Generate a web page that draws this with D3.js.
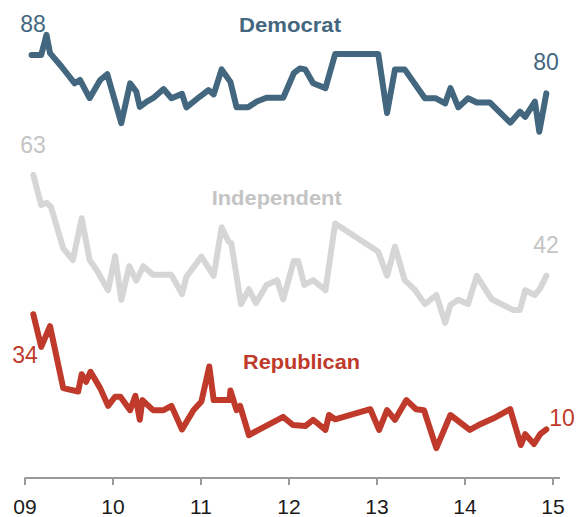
<!DOCTYPE html>
<html>
<head>
<meta charset="utf-8">
<script src="https://cdn.jsdelivr.net/npm/d3@7"></script>
<style>
html,body{margin:0;padding:0;background:#fff;}
svg{display:block;}
</style>
</head>
<body>
<svg id="chart" width="576" height="517"></svg>
<script>
// ---- data (decimal year, percent) ----
const demYears = [2009.08,2009.19,2009.25,2009.29,2009.42,2009.57,2009.63,2009.74,2009.86,2009.94,2010.10,2010.20,2010.27,2010.31,2010.39,2010.46,2010.58,2010.67,2010.79,2010.84,2010.99,2011.09,2011.15,2011.24,2011.34,2011.41,2011.54,2011.64,2011.75,2011.94,2012.06,2012.13,2012.19,2012.28,2012.42,2012.53,2013.02,2013.12,2013.21,2013.32,2013.55,2013.67,2013.78,2013.84,2013.93,2014.04,2014.14,2014.29,2014.52,2014.63,2014.69,2014.80,2014.85,2014.93];
const demValues = [88,88,92.2,88.4,85.6,82.1,82.8,79,82.8,84,73.8,82.1,80.4,77.2,78.3,79,80.9,79,79.9,77.1,79.3,80.7,79.8,85,82.4,77.1,77.1,78.3,79.1,79.1,84.2,85.2,85,82.1,81.1,88.2,88.2,75.9,85,85,79,79,77.9,81.1,77.1,79,78.1,78.1,73.9,76.2,75.1,78.3,72,80];

const indYears = [2009.10,2009.19,2009.25,2009.30,2009.44,2009.55,2009.65,2009.74,2009.82,2009.95,2010.03,2010.10,2010.19,2010.27,2010.35,2010.46,2010.67,2010.79,2010.84,2011.01,2011.15,2011.24,2011.32,2011.35,2011.46,2011.55,2011.63,2011.75,2011.87,2011.94,2012.06,2012.11,2012.18,2012.28,2012.42,2012.53,2013.02,2013.12,2013.21,2013.32,2013.44,2013.55,2013.68,2013.78,2013.84,2013.93,2014.04,2014.14,2014.31,2014.55,2014.63,2014.69,2014.80,2014.86,2014.93];
const indValues = [63,56.75,57.2,56.4,47.7,45.3,54,45.3,43.2,39,46.1,37,44,41,44,42.2,42.2,38.2,41.8,46,42,52.1,49.1,48.8,36.1,39.2,36.3,40.1,41.1,37.1,45.1,45.1,40.1,41.1,39,52.9,47,42,48.1,41.1,39,36.1,38,32.2,35.9,37,36.1,42,37.1,34.9,34.9,39,38,39.4,42];

const repYears = [2009.10,2009.19,2009.29,2009.44,2009.61,2009.65,2009.70,2009.75,2009.86,2009.95,2010.03,2010.09,2010.20,2010.26,2010.31,2010.34,2010.46,2010.58,2010.67,2010.79,2010.92,2011.01,2011.10,2011.15,2011.33,2011.34,2011.41,2011.45,2011.55,2011.66,2011.94,2012.05,2012.19,2012.28,2012.42,2012.46,2012.53,2012.93,2013.03,2013.12,2013.21,2013.34,2013.45,2013.54,2013.68,2013.84,2014.06,2014.16,2014.33,2014.52,2014.64,2014.69,2014.79,2014.86,2014.93];
const repValues = [34,27.2,31.5,18.6,17.9,21.5,19.9,22,18.6,14.9,16.8,16.8,14,17,12,16.1,14,14,14.9,10,14,15.8,23.1,16.1,16.1,18.1,14,14.9,8.8,9.9,12.6,10.9,10.7,12,9.9,13,12.1,14.2,9.9,14,12,16.1,14.2,14,6.1,13,9.9,10.9,12.3,14.2,6.75,9,6.96,9,10];

const tickYears = [2009,2010,2011,2012,2013,2014,2015];
const tickLabels = ["09","10","11","12","13","14","15"];

const seriesNames = ["Democrat","Independent","Republican"];
const seriesColors = ["#43677f","#d6d6d6","#bf3a2a"];
const labelColors = ["#43677f","#c4c4c4","#bf3a2a"];

// ---- layout ----
const svg = d3.select("#chart");
const x = d3.scaleLinear().domain([2009, 2015]).range([24.5, 552.5]);
const y = d3.scaleLinear().domain([0, 100]).range([477.4, -2.6]);

const series = [
  {name: seriesNames[0], years: demYears, values: demValues, color: seriesColors[0], lc: labelColors[0],
   label: {x: 290, y: 32, w: 102}, start: {x: 33, y: 31.5}, end: {x: 546, y: 70}},
  {name: seriesNames[1], years: indYears, values: indValues, color: seriesColors[1], lc: labelColors[1],
   label: {x: 276.7, y: 205, w: 130}, start: {x: 33, y: 152.5}, end: {x: 546, y: 252.5}},
  {name: seriesNames[2], years: repYears, values: repValues, color: seriesColors[2], lc: labelColors[2],
   label: {x: 301.5, y: 369, w: 117}, start: {x: 25, y: 362.5}, end: {x: 562, y: 426}}
];

// axis
const axisG = svg.append("g").attr("transform", "translate(0,478)");
const axis = d3.axisBottom(x).tickValues(tickYears).tickFormat((d, i) => tickLabels[i]).tickSize(7).tickPadding(14);
axisG.call(axis);
axisG.select(".domain").attr("d", "M" + x(2009) + ",0H560").attr("stroke", "#9a9a9a").attr("stroke-width", 2);
axisG.selectAll(".tick line").attr("stroke", "#9a9a9a").attr("stroke-width", 2);
axisG.selectAll(".tick text").attr("font-family", "'Liberation Sans', Arial, sans-serif").attr("font-size", 21).attr("fill", "#1a1a1a");

const line = d3.line().x(d => x(d[0])).y(d => y(d[1])).curve(d3.curveLinear);

series.forEach(s => {
  const pts = s.years.map((yr, i) => [yr, s.values[i]]);
  svg.append("path").datum(pts)
    .attr("d", line)
    .attr("fill", "none")
    .attr("stroke", s.color)
    .attr("stroke-width", 6)
    .attr("stroke-linejoin", "round")
    .attr("stroke-linecap", "round");

  svg.append("text")
    .attr("x", s.label.x).attr("y", s.label.y)
    .attr("text-anchor", "middle")
    .attr("font-family", "'Liberation Sans', Arial, sans-serif")
    .attr("font-weight", "bold").attr("font-size", 20)
    .attr("textLength", s.label.w).attr("lengthAdjust", "spacingAndGlyphs")
    .attr("fill", s.lc).text(s.name);

  svg.append("text")
    .attr("x", s.start.x).attr("y", s.start.y)
    .attr("text-anchor", "middle")
    .attr("font-family", "'Liberation Sans', Arial, sans-serif")
    .attr("font-size", 23)
    .attr("fill", s.lc).text(Math.round(s.values[0]));

  svg.append("text")
    .attr("x", s.end.x).attr("y", s.end.y)
    .attr("text-anchor", "middle")
    .attr("font-family", "'Liberation Sans', Arial, sans-serif")
    .attr("font-size", 23)
    .attr("fill", s.lc).text(Math.round(s.values[s.values.length - 1]));
});
</script>
</body>
</html>
